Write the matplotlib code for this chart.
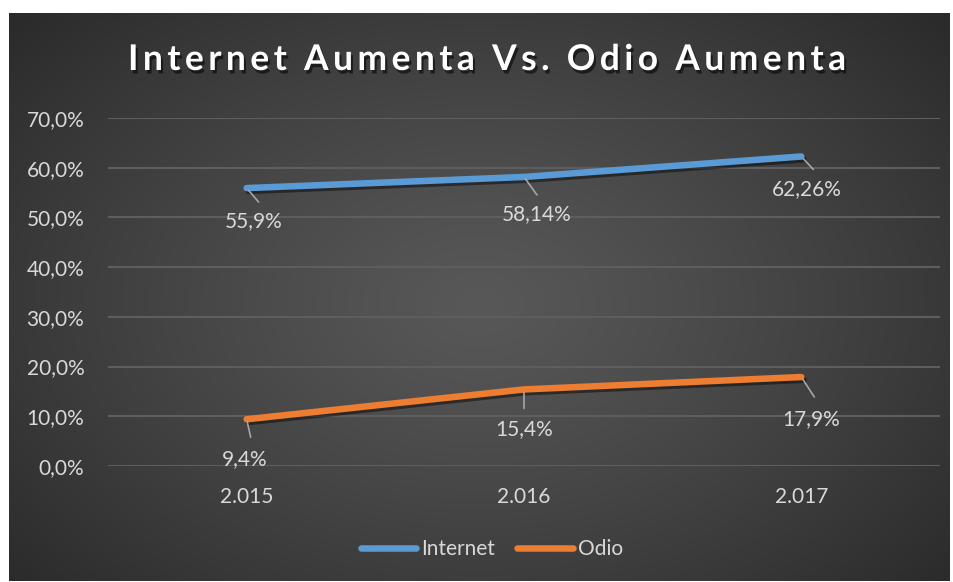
import matplotlib
matplotlib.use("Agg")
import matplotlib.pyplot as plt
import matplotlib.patheffects as pe
import numpy as np

plt.rcParams["font.family"] = ["Lato", "DejaVu Sans"]

# data
years = ["2.015", "2.016", "2.017"]
internet = [55.9, 58.14, 62.26]
odio = [9.4, 15.4, 17.9]
internet_labels = ["55,9%", "58,14%", "62,26%"]
odio_labels = ["9,4%", "15,4%", "17,9%"]
yticks = [0, 10, 20, 30, 40, 50, 60, 70]
title = "Internet Aumenta Vs. Odio Aumenta"

color_internet = "#5B9BD5"
color_odio = "#ED7D31"
text_color = "#D9D9D9"
grid_color = "#5E5E5E"
leader_color = "#A6A6A6"
fs = 15

W, H = 954, 582
fig = plt.figure(figsize=(W / 100, H / 100), dpi=100, facecolor="white")

# dark radial background
bg = fig.add_axes([9 / W, 1 / H, 941 / W, 568 / H])
yy, xx = np.mgrid[0:568, 0:941]
r = np.sqrt(((xx - 470) / 620) ** 2 + ((yy - 290) / 420) ** 2)
r = np.clip(r, 0, 1)
shade = 0.345 - 0.175 * r ** 1.2
bg.imshow(np.dstack([shade, shade, shade]), aspect="auto", extent=[0, 1, 0, 1])
bg.set_axis_off()

ax = fig.add_axes([108 / W, 1 - 466 / H, 832 / W, 348 / H])
ax.set_facecolor("none")
x = np.arange(len(years))

shadow = [pe.SimpleLineShadow(offset=(1.5, -2), alpha=0.45, shadow_color="black"), pe.Normal()]
ax.plot(x, internet, color=color_internet, lw=4.7, solid_capstyle="round",
        solid_joinstyle="round", label="Internet", path_effects=shadow, zorder=3)
ax.plot(x, odio, color=color_odio, lw=4.7, solid_capstyle="round",
        solid_joinstyle="round", label="Odio", path_effects=shadow, zorder=3)

# data labels with leader lines (offsets in pixels)
leader_off = {"i": [(12, -14), (13, -18), (12, -13)], "o": [(4, -18), (0, -19), (13, -20)]}
label_off = {"i": [(7, -33), (13, -37), (5, -33)], "o": [(-2, -40), (0, -40), (10, -42)]}
for key, vals, labs in [("i", internet, internet_labels), ("o", odio, odio_labels)]:
    for i, (v, lab) in enumerate(zip(vals, labs)):
        ax.annotate("", xy=(i, v), xytext=leader_off[key][i], textcoords="offset pixels",
                    arrowprops=dict(arrowstyle="-", color=leader_color, lw=1.2,
                                    shrinkA=0, shrinkB=2), zorder=4)
        ax.annotate(lab, xy=(i, v), xytext=label_off[key][i], textcoords="offset pixels",
                    ha="center", va="center", color=text_color, fontsize=fs, zorder=5)

ax.set_xlim(-0.5, 2.5)
ax.set_ylim(0, 70)
ax.set_yticks(yticks)
ax.set_yticklabels([f"{t:.1f}%".replace(".", ",") for t in yticks])
ax.set_xticks(x)
ax.set_xticklabels(years)
ax.tick_params(axis="both", length=0, colors=text_color, labelsize=fs)
ax.tick_params(axis="y", pad=17)
ax.tick_params(axis="x", pad=15)
ax.grid(axis="y", color=grid_color, lw=1.5)
ax.set_axisbelow(True)
for s in ax.spines.values():
    s.set_visible(False)

# letter-spaced title
spaced = "  ".join("\u200a\u200a".join(w) for w in title.split(" "))
fig.text(488 / W, 1 - 60 / H, spaced, ha="center", va="center",
         color="white", fontsize=25.5, fontweight="bold",
         path_effects=[pe.withSimplePatchShadow(offset=(1.5, -2.5), alpha=0.55, shadow_rgbFace="black")])

leg = fig.legend(loc="center", bbox_to_anchor=(492 / W, 1 - 549 / H), ncol=2, frameon=False,
                 fontsize=fs, handlelength=2.65, handletextpad=0.25, columnspacing=1.05)
for t in leg.get_texts():
    t.set_color(text_color)
for h in leg.legend_handles:
    h.set_path_effects([])

fig.savefig("out.png", dpi=100, facecolor="white")
